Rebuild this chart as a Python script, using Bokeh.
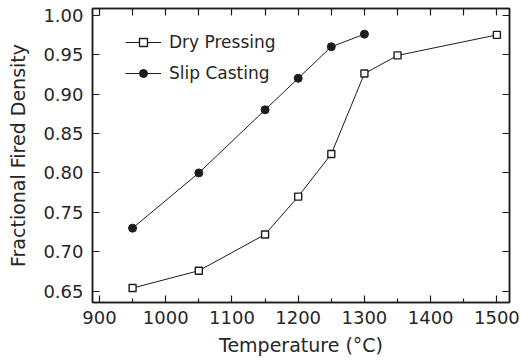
from bokeh.plotting import figure
from bokeh.models import LinearAxis, FixedTicker, Legend, LegendItem, Range1d, CustomJSTickFormatter
from bokeh.embed import file_html
from bokeh.resources import INLINE

# Data
temp_dry = [950, 1050, 1150, 1200, 1250, 1300, 1350, 1500]
dens_dry = [0.654, 0.676, 0.722, 0.770, 0.824, 0.926, 0.949, 0.975]
temp_slip = [950, 1050, 1150, 1200, 1250, 1300]
dens_slip = [0.730, 0.800, 0.880, 0.920, 0.960, 0.976]

x_ticks = [900, 1000, 1100, 1200, 1300, 1400, 1500]
x_minor = [950, 1050, 1150, 1250, 1350, 1450]
y_ticks = [0.65, 0.70, 0.75, 0.80, 0.85, 0.90, 0.95, 1.00]
x_label = "Temperature (°C)"
y_label = "Fractional Fired Density"
series_names = ["Dry Pressing", "Slip Casting"]

FONT = "DejaVu Sans"
INK = "#1c1c1c"
TXT = "#262626"

p = figure(width=522, height=364, output_backend="svg", toolbar_location=None,
           x_range=Range1d(889.5, 1519), y_range=Range1d(0.6357, 1.0085),
           min_border_left=92, min_border_right=13, min_border_top=8, min_border_bottom=62,
           background_fill_color="white", border_fill_color="white")
p.grid.visible = False
p.outline_line_color = INK
p.outline_line_width = 1.5

xa = p.xaxis[0]
xa.ticker = FixedTicker(ticks=x_ticks, minor_ticks=x_minor)
xa.axis_label = x_label
ya = p.yaxis[0]
ya.ticker = FixedTicker(ticks=y_ticks)
ya.axis_label = y_label
ya.formatter = CustomJSTickFormatter(code="return tick.toFixed(2);")

for ax in (xa, ya):
    ax.axis_line_color = INK
    ax.axis_line_width = 1.5
    ax.major_tick_in = 7
    ax.major_tick_out = 0
    ax.minor_tick_in = 4
    ax.minor_tick_out = 0
    ax.major_tick_line_color = INK
    ax.minor_tick_line_color = INK
    ax.major_tick_line_width = 1.2
    ax.minor_tick_line_width = 1.2
    ax.major_label_text_font = FONT
    ax.major_label_text_font_size = "18px"
    ax.major_label_text_color = TXT
    ax.axis_label_text_font = FONT
    ax.axis_label_text_font_size = "19px"
    ax.axis_label_text_font_style = "normal"
    ax.axis_label_text_color = TXT
ya.minor_tick_line_color = None
xa.major_label_standoff = 8
xa.axis_label_standoff = 7
ya.major_label_standoff = 9
ya.axis_label_standoff = 11

# top and right axes: ticks only
top = LinearAxis(ticker=FixedTicker(ticks=sorted(x_ticks + x_minor)))
right = LinearAxis(ticker=FixedTicker(ticks=y_ticks))
for ax in (top, right):
    ax.axis_line_color = INK
    ax.axis_line_width = 1.5
    ax.major_tick_in = 7
    ax.major_tick_out = 0
    ax.major_tick_line_color = INK
    ax.major_tick_line_width = 1.2
    ax.minor_tick_line_color = None
    ax.major_label_text_font_size = "1px"
    ax.major_label_text_color = None
    ax.major_label_standoff = 0
p.add_layout(top, "above")
p.add_layout(right, "right")

l1 = p.line(temp_dry, dens_dry, line_color=INK, line_width=1)
s1 = p.scatter(temp_dry, dens_dry, marker="square", size=7, fill_color="white",
               line_color=INK, line_width=1.4)
l2 = p.line(temp_slip, dens_slip, line_color=INK, line_width=1)
s2 = p.scatter(temp_slip, dens_slip, marker="circle", size=8, fill_color=INK,
               line_color=INK, line_width=1)

legend = Legend(items=[LegendItem(label=series_names[0], renderers=[l1, s1]),
                       LegendItem(label=series_names[1], renderers=[l2, s2])],
                location=(33, 219), glyph_width=36, glyph_height=20, label_standoff=8,
                spacing=11, padding=0, margin=0, border_line_color=None,
                background_fill_alpha=0, label_text_font=FONT,
                label_text_font_size="17px", label_text_color=TXT)
p.add_layout(legend, "center")

open("out.html", "w").write(file_html(p, INLINE))
